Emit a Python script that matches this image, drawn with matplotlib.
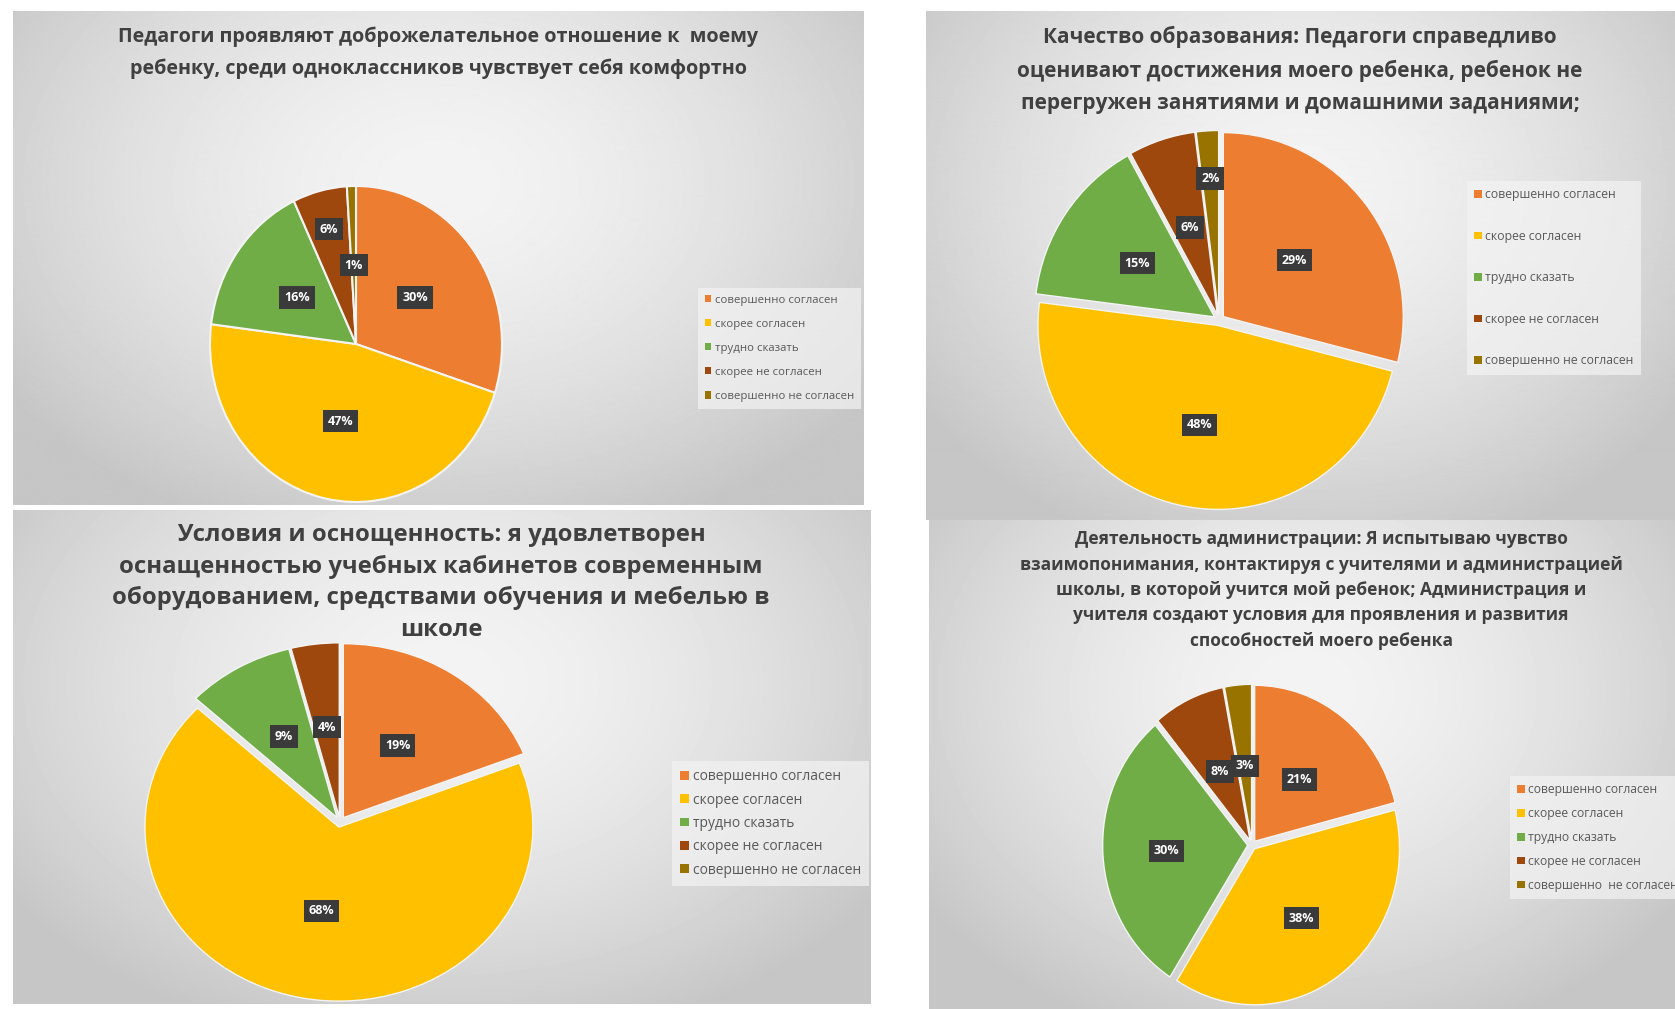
import numpy as np
import matplotlib.pyplot as plt
from matplotlib.patches import Patch

plt.rcParams['font.family'] = ['Open Sans', 'DejaVu Sans']

W, H, DPI = 1675, 1009, 100

# %% Data

categories = ['совершенно согласен', 'скорее согласен', 'трудно сказать',
              'скорее не согласен', 'совершенно не согласен']
categories4 = ['совершенно согласен', 'скорее согласен', 'трудно сказать',
               'скорее не согласен', 'совершенно  не согласен']
colors = ['#ED7D31', '#FFC000', '#70AD47', '#9E480E', '#997300']

title1 = ['Педагоги проявляют доброжелательное отношение к  моему',
          'ребенку, среди одноклассников чувствует себя комфортно']
values1 = [30, 47, 16, 6, 1]

title2 = ['Качество образования: Педагоги справедливо',
          'оценивают достижения моего ребенка, ребенок не',
          'перегружен занятиями и домашними заданиями;']
values2 = [29, 48, 15, 6, 2]

title3 = ['Условия и оснощенность: я удовлетворен',
          'оснащенностью учебных кабинетов современным',
          'оборудованием, средствами обучения и мебелью в',
          'школе']
values3 = [19, 68, 9, 4, 0]

title4 = ['Деятельность администрации: Я испытываю чувство',
          'взаимопонимания, контактируя с учителями и администрацией',
          'школы, в которой учится мой ребенок; Администрация и',
          'учителя создают условия для проявления и развития',
          'способностей моего ребенка']
values4 = [21, 38, 30, 8, 3]

# %% Layout of the four pasted panels (pixels, top-left origin)

panels = [
    dict(title=title1, values=values1, legend=categories,
         box=(13, 11, 850, 494), tx=438, ty=37, tstep=32, tfs=14.2,
         pie=(356, 344, 146, 158), explode=0.0, lw=1.5,
         radii=[0.5, 0.5, 0.5, 0.75, 0.5],
         leg=(692, 282), lfs=8.2, lsp=1.15),
    dict(title=title2, values=values2, legend=categories,
         box=(926, 11, 749, 509), tx=1300, ty=37, tstep=33.5, tfs=15,
         pie=(1219, 320, 180, 184), explode=0.03, lw=1.0,
         radii=[0.5, 0.55, 0.52, 0.5, 0.74],
         leg=(1461, 175), lfs=8.8, lsp=2.33),
    dict(title=title3, values=values3, legend=categories,
         box=(13, 510, 858, 494), tx=441, ty=535, tstep=31.5, tfs=17.2,
         pie=(340, 822, 194, 174), explode=0.03, lw=1.0,
         radii=[0.5, 0.49, 0.54, 0.52, 0.5],
         leg=(665, 754), lfs=10, lsp=0.6),
    dict(title=title4, values=values4, legend=categories4,
         box=(929, 520, 746, 489), tx=1321, ty=539, tstep=25.5, tfs=12.5,
         pie=(1252, 845, 145, 156), explode=0.03, lw=1.0,
         radii=[0.5, 0.55, 0.56, 0.49, 0.48],
         leg=(1504, 770), lfs=8.7, lsp=0.9),
]


def frac(x, y, w, h):
    # pixel box with top-left origin -> figure fraction rect
    return [x / W, 1 - (y + h) / H, w / W, h / H]


fig = plt.figure(figsize=(W / DPI, H / DPI), dpi=DPI, facecolor='white')

for p in panels:
    # radial gray gradient behind each chart
    bx, by, bw, bh = p['box']
    bg = fig.add_axes(frac(bx, by, bw, bh))
    yy, xx = np.mgrid[0:bh, 0:bw]
    d = np.sqrt(((xx - bw * 0.5) / (bw * 0.62)) ** 2 +
                ((yy - bh * 0.35) / (bh * 0.75)) ** 2)
    img = 0.955 - 0.18 * np.clip(d, 0, 1) ** 1.6
    bg.imshow(img, cmap='gray', vmin=0, vmax=1, aspect='auto',
              extent=[0, 1, 0, 1], interpolation='bilinear')
    bg.axis('off')

    for i, line in enumerate(p['title']):
        fig.text(p['tx'] / W, 1 - (p['ty'] + i * p['tstep']) / H, line,
                 ha='center', va='center', fontsize=p['tfs'],
                 fontweight='bold', color='#404040')

    cx, cy, rx, ry = p['pie']
    L = 1 + p['explode'] + 0.02
    ax = fig.add_axes(frac(cx - rx * L, cy - ry * L, 2 * rx * L, 2 * ry * L))
    wedges, _ = ax.pie(p['values'], colors=colors, startangle=90,
                       counterclock=False, explode=[p['explode']] * 5,
                       wedgeprops=dict(edgecolor='#f4f4f4', linewidth=p['lw']))
    ax.set_aspect('auto')
    ax.set_xlim(-L, L)
    ax.set_ylim(-L, L)
    ax.axis('off')

    for w, v, r in zip(wedges, p['values'], p['radii']):
        if v == 0:
            continue
        th = np.deg2rad((w.theta1 + w.theta2) / 2)
        x0, y0 = w.center
        ax.text(x0 + r * np.cos(th), y0 + r * np.sin(th), f'{v}%',
                ha='center', va='center', fontsize=9, fontweight='bold',
                color='white',
                bbox=dict(boxstyle='square,pad=0.38', fc='#3a3a3a', ec='none'))

    handles = [Patch(facecolor=c, edgecolor='none') for c in colors]
    lx, ly = p['leg']
    leg = ax.legend(handles, p['legend'], loc='upper left',
                    bbox_to_anchor=(lx / W, 1 - ly / H),
                    bbox_transform=fig.transFigure, fontsize=p['lfs'],
                    labelspacing=p['lsp'], handlelength=0.6,
                    handleheight=0.6, handletextpad=0.3, borderpad=0.6,
                    frameon=True, fancybox=False, facecolor='#f3f3f3',
                    edgecolor='none', framealpha=0.7, labelcolor='#595959')

fig.savefig('out.png', dpi=DPI, facecolor='white')
